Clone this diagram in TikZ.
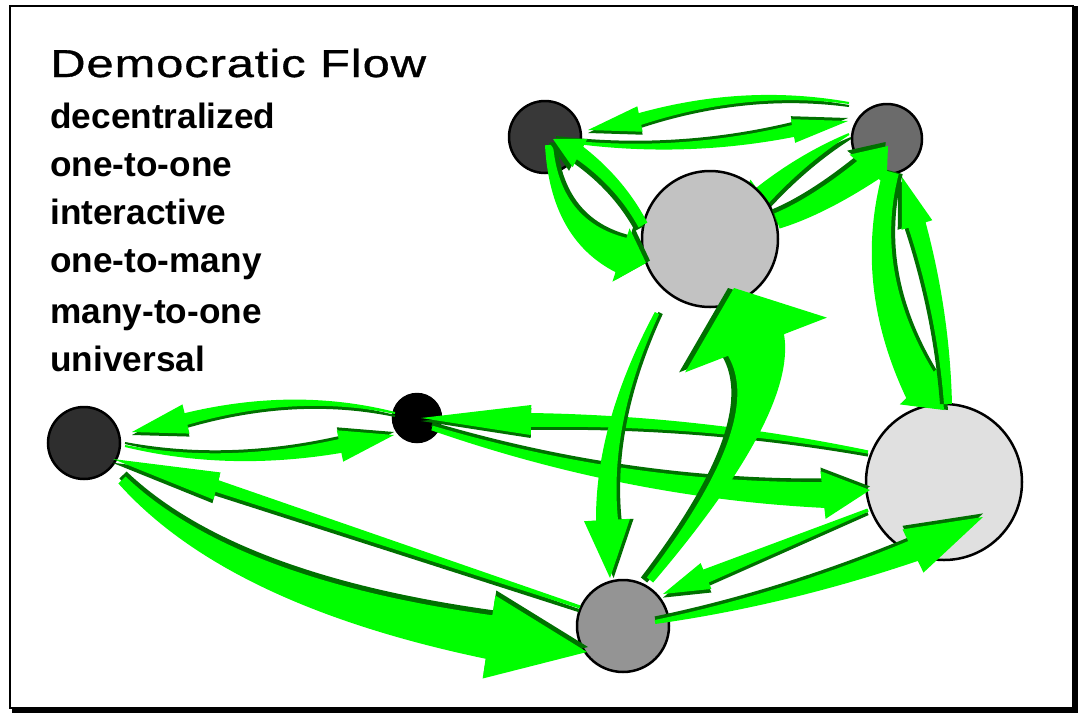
\documentclass[tikz,border=0pt]{standalone}
\usepackage{fontspec}
\usepackage{graphicx}
\setmainfont{Liberation Sans}
\newfontfamily\titlefont[LetterSpace=2,FakeBold=0.8]{Liberation Sans}
\usetikzlibrary{calc}
\definecolor{lgreen}{RGB}{0,255,0}
\definecolor{dgreen}{RGB}{0,112,0}
\tikzset{
  disc/.style={circle, draw=black, line width=1.25pt, inner sep=0pt},
  listtext/.style={anchor=base west, inner sep=0pt, font=\fontsize{17.6pt}{20pt}\selectfont\bfseries},
}
% tail, control, head base, tip, tail half width, shaft half width at head, barb half width, shadow shift
\newcommand\garrow[8]{%
  \coordinate (gt) at #1;
  \coordinate (gq) at #2;
  \coordinate (gh) at #3;
  \coordinate (gp) at #4;
  \coordinate (ghl) at ($(gh)!#6!90:(gp)$);
  \coordinate (ghr) at ($(gh)!#6!-90:(gp)$);
  \coordinate (gbl) at ($(gh)!#7!90:(gp)$);
  \coordinate (gbr) at ($(gh)!#7!-90:(gp)$);
  \coordinate (gtl) at ($(gt)!#5!90:(gq)$);
  \coordinate (gtr) at ($(gt)!#5!-90:(gq)$);
  \coordinate (gql) at ($(gq)+0.5*(ghl)-0.5*(gh)+0.5*(gtl)-0.5*(gt)$);
  \coordinate (gqr) at ($(gq)+0.5*(ghr)-0.5*(gh)+0.5*(gtr)-0.5*(gt)$);
  \def\gshape{(gtl) .. controls ($(gtl)!2/3!(gql)$) and ($(ghl)!2/3!(gql)$) .. (ghl) -- (gbl) -- (gp) -- (gbr) -- (ghr) .. controls ($(ghr)!2/3!(gqr)$) and ($(gtr)!2/3!(gqr)$) .. (gtr) -- cycle}%
  \begin{scope}[transform canvas={#8}]
    \fill[dgreen] \gshape;
  \end{scope}
  \fill[lgreen] \gshape;
}
\begin{document}
\begin{tikzpicture}[x=0.5pt, y=-0.5pt]
\useasboundingbox (0,0) rectangle (1078,713);
% frame with shadow
\fill[black] (12,6) rectangle (1078,713);
\filldraw[fill=white, draw=black, line width=1pt] (10,6) rectangle (1073,708);

% texts
\node[anchor=base west, inner sep=0pt, font=\fontsize{19.5pt}{24pt}\selectfont] (title) at (50,77) {\scalebox{1.25}[1]{\titlefont Democratic Flow}};
\node[listtext] (l1) at (50,128) {decentralized};
\node[listtext] (l2) at (50,176) {one-to-one};
\node[listtext] (l3) at (50,224.5) {interactive};
\node[listtext] (l4) at (50,272) {one-to-many};
\node[listtext] (l5) at (50,323) {many-to-one};
\node[listtext] (l6) at (50,371.5) {universal};

% node positions
\coordinate (A) at (545,137);
\coordinate (B) at (887,139);
\coordinate (C) at (710,239);

% B -> C (head hidden under C)
\garrow{($(B)+(-38,-5)$)}{(803,158)}{(762,196)}{($(C)+(25,-24)$)}{0.5pt}{5pt}{10pt}{xshift=1pt,yshift=-2pt}

% circles
\node[disc, minimum size=36pt, fill=black!78] (nA) at (A) {};
\node[disc, minimum size=35pt, fill=black!58] (nB) at (B) {};
\node[disc, minimum size=68pt, fill=black!24] (nC) at (C) {};
\node[disc, minimum size=36pt, fill=black!82] (nD) at (84,443) {};
\node[disc, minimum size=24pt, fill=black] (nE) at (417,418) {};
\node[disc, minimum size=46pt, fill=black!42] (nF) at (623,626) {};
\node[disc, minimum size=78pt, fill=black!12] (nG) at (944,482) {};

% A <-> B
\garrow{($(nB)+(-38,-36)$)}{(745.5,87)}{(640,119)}{($(nA)+(43,-7)$)}{0.5pt}{3pt}{6.5pt}{yshift=-1.5pt}
\garrow{($(nA)+(11,3)$)}{(675.5,156.5)}{(793,131)}{($(nB)+(-39,-18)$)}{0.5pt}{3pt}{6pt}{yshift=1.5pt}
% D <-> E
\garrow{($(nE)+(-22,-5)$)}{(295.5,390)}{(186,419)}{($(nD)+(48,-11)$)}{0.5pt}{3pt}{7.5pt}{yshift=-1.5pt}
\garrow{($(nD)+(41,3)$)}{(227.5,468)}{(340,446)}{($(nE)+(-23,17)$)}{0.5pt}{3.5pt}{8pt}{yshift=1.5pt}
% E <-> G
\garrow{($(nG)+(-76,-30)$)}{(700.5,420)}{(531,420)}{($(nE)+(4,0)$)}{0.8pt}{3.5pt}{7.5pt}{yshift=-1.5pt}
\garrow{($(nE)+(15,10)$)}{(626.5,490.5)}{(823,495)}{($(nG)+(-74,8)$)}{1.2pt}{6.5pt}{12pt}{yshift=1.8pt}
% D <-> F
\garrow{($(nF)+(-43,-19)$)}{(398.5,546.5)}{(217,486)}{($(nD)+(29,16)$)}{0.8pt}{3pt}{7pt}{xshift=-0.5pt,yshift=-1.8pt}
\garrow{($(nD)+(38,37)$)}{(230,592)}{(489,637)}{($(nF)+(-36,26)$)}{2.5pt}{11pt}{21pt}{xshift=0.5pt,yshift=2.5pt}
% F <-> G
\garrow{($(nF)+(32,-4)$)}{(784,599.5)}{(913,551)}{($(nG)+(39,35)$)}{1pt}{5.5pt}{12pt}{yshift=1.8pt}
\garrow{($(nG)+(-76,28)$)}{(787,543)}{(706,576)}{($(nF)+(40,-32)$)}{0.8pt}{3.5pt}{7pt}{yshift=-1.8pt}
% A <-> C
\garrow{($(nA)+(4,8)$)}{(555,230)}{(621,255)}{($(nC)+(-64,24)$)}{2pt}{9pt}{14pt}{xshift=2pt,yshift=1.2pt}
\garrow{($(nC)+(-67,-14)$)}{(620.5,183)}{(580,153)}{($(nA)+(8,2)$)}{2.5pt}{3.5pt}{8pt}{xshift=-1.8pt,yshift=-1.8pt}
% C -> B
\garrow{($(nC)+(67,-18)$)}{(817.5,206.5)}{(868,170)}{($(nB)+(1,7)$)}{4pt}{7pt}{12pt}{xshift=-1.2pt,yshift=2pt}
% B <-> G
\garrow{($(nB)+(4,33)$)}{(862.5,277.5)}{(920,385)}{($(nG)+(0,-72)$)}{4pt}{9.5pt}{14pt}{xshift=2pt}
\garrow{($(nG)+(4,-78)$)}{(943.5,314)}{(917,225)}{($(nB)+(15,38)$)}{2pt}{4.5pt}{8pt}{xshift=-2pt}
% C <-> F
\garrow{($(nC)+(-53,74)$)}{(602,423.5)}{(607,520)}{($(nF)+(-13,-48)$)}{1.2pt}{5.5pt}{11.5pt}{xshift=1.8pt}
\garrow{($(nF)+(27,-46)$)}{(782,417)}{(756,345)}{($(nC)+(24,49)$)}{2pt}{15pt}{38pt}{xshift=-3pt}
\end{tikzpicture}
\end{document}
